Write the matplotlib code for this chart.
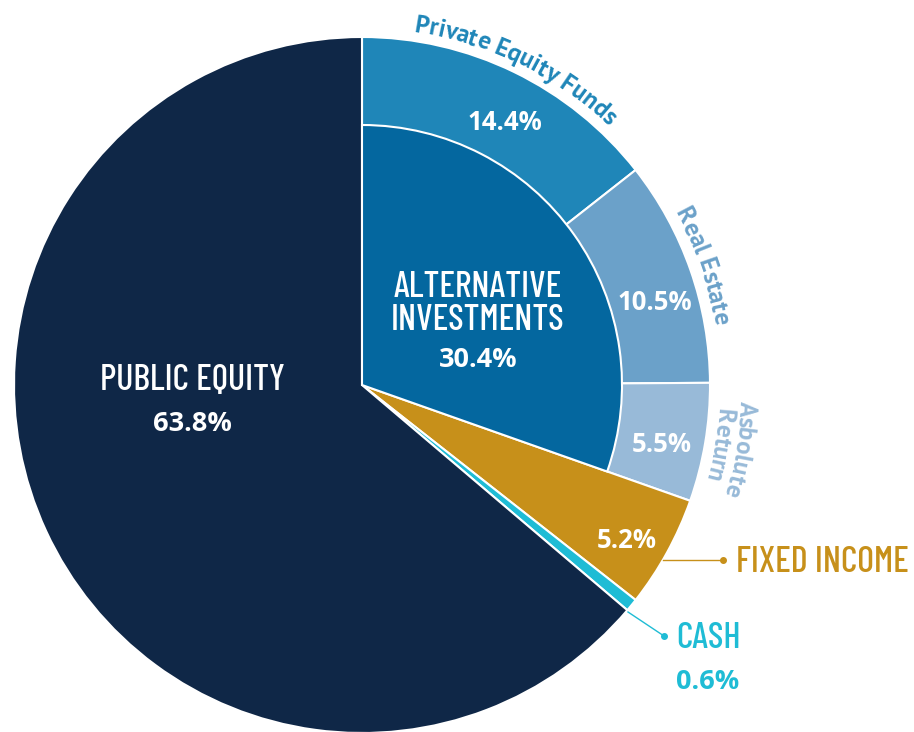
import matplotlib
matplotlib.use("Agg")
import matplotlib.pyplot as plt
from matplotlib import font_manager
import numpy as np

# slices, clockwise from 12 o'clock
labels = ['Private Equity Funds', 'Real Estate', 'Asbolute Return',
          'Fixed Income', 'Cash', 'Public Equity']
shares = [14.4, 10.5, 5.5, 5.2, 0.6, 63.8]
alt_name = 'ALTERNATIVE\nINVESTMENTS'
alt_share = 30.4

colors = ['#1f86b8', '#6ba1c9', '#98bad8', '#c7901a', '#1fbcd5', '#0f2747']
alt_color = '#04679f'

W, H = 914, 732
cx, cy = 362, H - 385
R, r_in = 348, 260

fonts = font_manager.fontManager.ttflist
avail = {f.name for f in fonts}
avail_bold = {f.name for f in fonts if f.weight in (700, 'bold')}


def pick(pool, *cands):
    return next((c for c in cands if c in pool), 'DejaVu Sans')


narrow = pick(avail, 'Barlow Condensed', 'Roboto Condensed', 'Saira Condensed',
              'Archivo Narrow', 'Asap Condensed')
pctfont = pick(avail_bold, 'Montserrat', 'Raleway', 'Open Sans')
curvfont = pick(avail_bold, 'Source Sans 3', 'Source Sans Pro', 'PT Sans',
                'Open Sans')

fig = plt.figure(figsize=(W / 100, H / 100), dpi=100)
ax = fig.add_axes([0, 0, 1, 1])

ax.pie(shares, colors=colors, startangle=90, counterclock=False,
       radius=R, center=(cx, cy),
       wedgeprops=dict(edgecolor='white', linewidth=1.5))
inner, _ = ax.pie([alt_share, 100 - alt_share], startangle=90,
                  counterclock=False, radius=r_in, center=(cx, cy),
                  colors=[alt_color, 'none'],
                  wedgeprops=dict(edgecolor='white', linewidth=1.5))
inner[1].set_edgecolor('none')
ax.set_xlim(0, W)
ax.set_ylim(0, H)
ax.set_aspect('equal')
ax.axis('off')


def P(x, y):
    return x, H - y


def pct(v):
    return f'{v:.1f}%'


renderer = fig.canvas.get_renderer()


def char_width(ch, size, weight, family):
    def w(s):
        t = ax.text(0, 0, s, fontsize=size, fontweight=weight, family=family)
        bb = t.get_window_extent(renderer)
        t.remove()
        return bb.width
    return w('|' + ch + '|') - w('||')


def arc_text(s, radius, mid_deg, color, size, weight='bold', family=curvfont):
    widths = [char_width(c, size, weight, family) for c in s]
    total = sum(widths)
    start = np.radians(mid_deg) + total / radius / 2
    cum = 0
    for c, w in zip(s, widths):
        a = start - (cum + w / 2) / radius
        cum += w
        ax.text(cx + radius * np.cos(a), cy + radius * np.sin(a), c,
                rotation=np.degrees(a) - 90, rotation_mode='anchor',
                ha='center', va='baseline', color=color, fontsize=size,
                fontweight=weight, family=family)


# wedge mid angles
bounds = 90 - np.cumsum([0] + shares) * 3.6
mids = (bounds[:-1] + bounds[1:]) / 2

# Public equity
ax.text(*P(192, 381), labels[5].upper(), ha='center', va='center',
        color='white', fontsize=26, fontweight='medium', family=narrow)
ax.text(*P(192, 424), pct(shares[5]), ha='center', va='center',
        color='white', fontsize=19.5, fontweight='bold', family=pctfont)

# Alternative investments
ax.text(*P(478, 304), alt_name, ha='center', va='center', color='white',
        fontsize=26, fontweight='medium', family=narrow, linespacing=1.0)
ax.text(*P(478, 360), pct(alt_share), ha='center', va='center',
        color='white', fontsize=19.5, fontweight='bold', family=pctfont)

# ring values
ax.text(*P(505, 123), pct(shares[0]), ha='center', va='center',
        color='white', fontsize=18.5, fontweight='bold', family=pctfont)
ax.text(*P(655, 302), pct(shares[1]), ha='center', va='center',
        color='white', fontsize=18.5, fontweight='bold', family=pctfont)
ax.text(*P(662, 445), pct(shares[2]), ha='center', va='center',
        color='white', fontsize=18.5, fontweight='bold', family=pctfont)
ax.text(*P(627, 541), pct(shares[3]), ha='center', va='center',
        color='white', fontsize=18.5, fontweight='bold', family=pctfont)

# curved outer labels
arc_text(labels[0], 357, mids[0], colors[0], 18)
arc_text(labels[1], 357, mids[1], colors[1], 18)
first, second = labels[2].split(' ')
arc_text(first, 378, mids[2], colors[2], 18)
arc_text(second, 356, mids[2], colors[2], 18)

# fixed income callout
ax.plot([663, 723], [H - 560, H - 560], color=colors[3], lw=1)
ax.plot([723], [H - 560], 'o', color=colors[3], ms=4)
ax.text(*P(736, 562), labels[3].upper(), ha='left', va='center',
        color=colors[3], fontsize=26, fontweight='medium', family=narrow)

# cash callout
ax.plot([628, 664], [H - 612, H - 636], color=colors[4], lw=1)
ax.plot([664], [H - 636], 'o', color=colors[4], ms=4)
ax.text(*P(676, 638), labels[4].upper(), ha='left', va='center',
        color=colors[4], fontsize=26, fontweight='medium', family=narrow)
ax.text(*P(676, 682), pct(shares[4]), ha='left', va='center',
        color=colors[4], fontsize=19.5, fontweight='bold', family=pctfont)

fig.savefig('out.png', dpi=100)
